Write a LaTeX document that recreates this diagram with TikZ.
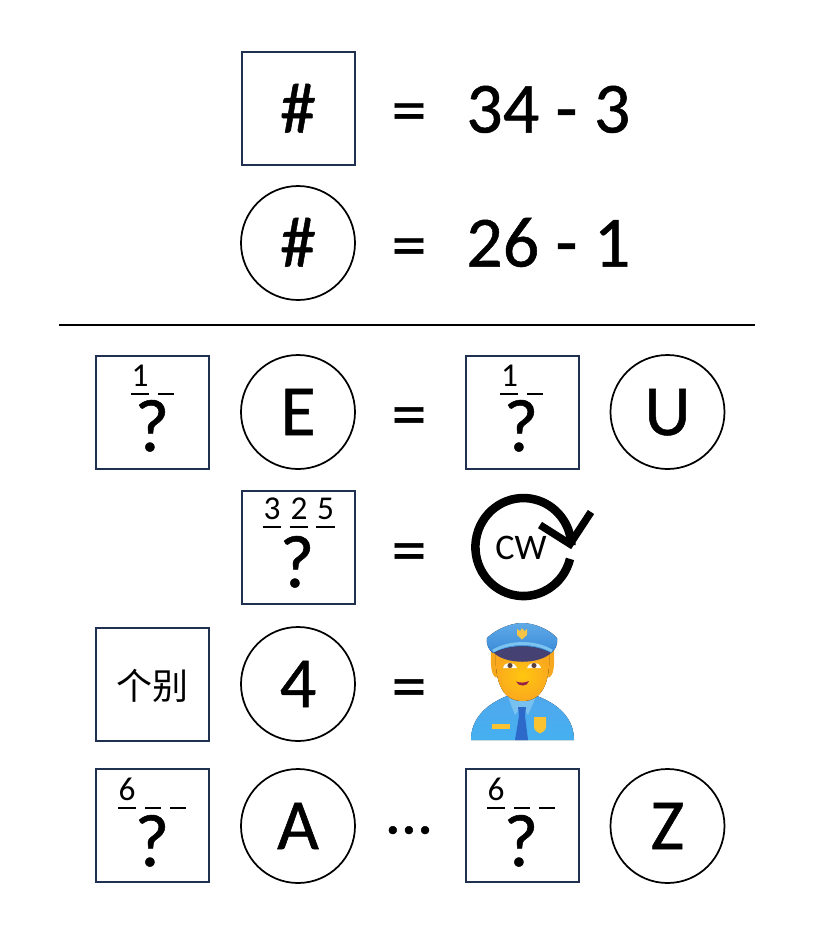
\documentclass[tikz,border=0pt]{standalone}
\usepackage{fontspec}
\setmainfont{Carlito}
\newfontfamily\heavy[RawFeature={embolden=0.7}]{Carlito}
\newfontfamily\cjk{Noto Sans CJK SC}
\definecolor{boxnavy}{HTML}{1F3050}
\definecolor{coatTop}{HTML}{4FA8EC}
\definecolor{coatBot}{HTML}{45B0F0}
\definecolor{collar}{HTML}{78C0F0}
\definecolor{tie}{HTML}{2D69C8}
\definecolor{badge}{HTML}{FAC332}
\definecolor{hair}{HTML}{F6A81E}
\definecolor{faceIn}{HTML}{FFC60F}
\definecolor{faceOut}{HTML}{FAA81E}
\definecolor{iris}{HTML}{5A4038}
\definecolor{lip}{HTML}{962046}
\definecolor{visor}{HTML}{464173}
\definecolor{capTop}{HTML}{5FAAE6}
\definecolor{capBot}{HTML}{3A8ADA}
\definecolor{capBand}{HTML}{7DC3F0}
\definecolor{capBadge}{HTML}{F5C346}
\tikzset{
  big/.style={inner sep=0pt,anchor=base,font=\heavy\fontsize{54}{60}\selectfont},
  eqsign/.style={inner sep=0pt,anchor=base,font=\heavy\fontsize{52}{60}\selectfont},
  letter/.style={inner sep=0pt,anchor=base,font=\heavy\fontsize{54}{60}\selectfont},
  qmark/.style={inner sep=0pt,anchor=base,font=\heavy\fontsize{56}{60}\selectfont},
  digit/.style={inner sep=0pt,anchor=base,font=\fontsize{25}{28}\selectfont},
  sq/.style={draw=boxnavy,line width=1.5pt,rectangle,minimum width=84.75pt,minimum height=84.75pt,inner sep=0pt},
  circ/.style={draw=black,line width=1.3pt,circle,minimum size=85.5pt,inner sep=0pt},
  blank/.style={draw=black,line width=1.1pt},
}
\begin{document}
\begin{tikzpicture}[x=0.75pt,y=-0.75pt]
\useasboundingbox (0,0) rectangle (820,940);
\fill[white] (0,0) rectangle (820,940);
% row 1
\node[sq] (b1) at (298,108.5) {};
\node[big] (h1) at (298,132.5) {\#};
\node[eqsign] (e1) at (409,133) {=};
\node[big,anchor=base west] (t1) at (466,132.5) {34 - 3};
% row 2
\node[circ] (c2) at (298,243) {};
\node[big] (h2) at (298,266.5) {\#};
\node[eqsign] (e2) at (409,268) {=};
\node[big,anchor=base west] (t2) at (466,266.5) {26 - 1};
% rule
\coordinate (ruleL) at (59,325);
\coordinate (ruleR) at (755,325);
\draw[line width=1.5pt] (ruleL) -- (ruleR);
% row 3
\node[sq] (b3a) at (152.5,412) {};
\node[digit] (d3a) at (140,386) {1};
\draw[blank] (131,394) -- (149,394);
\draw[blank] (158,394) -- (174,394);
\node[qmark] (q3a) at (152,451) {?};
\node[circ] (c3a) at (298,412) {};
\node[letter] (l3a) at (298,435) {E};
\node[eqsign] (e3) at (409,437) {=};
\node[sq] (b3b) at (522,412) {};
\node[digit] (d3b) at (509.5,386) {1};
\draw[blank] (500,394) -- (518,394);
\draw[blank] (527,394) -- (543,394);
\node[qmark] (q3b) at (521,451) {?};
\node[circ] (c3b) at (667.5,412) {};
\node[letter] (l3b) at (667.5,435) {U};
% row 4
\node[sq] (b4) at (298.5,547.5) {};
\node[digit] (d4a) at (272,519) {3};
\node[digit] (d4b) at (299,519) {2};
\node[digit] (d4c) at (325.5,519) {5};
\draw[blank] (263,527) -- (281,527);
\draw[blank] (290,527) -- (308,527);
\draw[blank] (316,527) -- (335,527);
\node[qmark] (q4) at (297,587) {?};
\node[eqsign] (e4) at (409,573) {=};
% clockwise icon
\coordinate (cwStart) at (570,558.9);
\draw[line width=6.4pt] (cwStart) arc[start angle=-14,end angle=-358,x radius=36pt,y radius=36.75pt];
\coordinate (cwA) at (540,525);
\coordinate (cwB) at (570,544);
\coordinate (cwC) at (591,512);
\draw[line width=5.6pt,miter limit=10] (cwA) -- (cwB) -- (cwC);
\node[inner sep=0pt,anchor=base,font=\fontsize{27}{30}\selectfont] (cw) at (521,559) {CW};
% row 5
\node[sq] (b5) at (152.5,684) {};
\node[inner sep=0pt,font=\cjk\fontsize{27}{30}\selectfont] (cj) at (152,686) {个别};
\node[circ] (c5) at (298,684) {};
\node[letter] (l5) at (298,707) {4};
\node[eqsign] (e5) at (409,709) {=};
% police officer emoji
\fill[top color=coatTop,bottom color=coatBot]
  (471,740) .. controls (471,718) and (487,704) .. (507,696) -- (537,696) .. controls (558,704) and (574,718) .. (574,740) -- cycle;
\fill[collar] (508,697) -- (536,697) -- (528,715) -- (522,707) -- (515,715) -- cycle;
\fill[tie] (518,707) -- (526,707) -- (525,716) -- (528,740) -- (515,740) -- (519,716) -- cycle;
\fill[badge] (492,724) rectangle (510,729);
\fill[badge] (534,717) -- (546,717) -- (546,727) .. controls (546,731) and (542,732) .. (540,733.5) .. controls (538,732) and (534,731) .. (534,727) -- cycle;
% head
\fill[hair] (491,650) -- (554,650) .. controls (554,662) and (555,672) .. (550,677) -- (495,677) .. controls (490,672) and (491,662) .. (491,650) -- cycle;
\fill[inner color=faceIn,outer color=faceOut]
  (496,650) -- (549,650) .. controls (551,685) and (541,701) .. (522.5,701) .. controls (504,701) and (494,685) .. (496,650) -- cycle;
% eyes and mouth
\fill[white] (503,668) .. controls (505,661) and (514,661) .. (517,668) -- cycle;
\fill[white] (527,668) .. controls (530,661) and (539,661) .. (541,668) -- cycle;
\fill[iris] (510,665.5) circle[radius=1.9pt];
\fill[iris] (534,665.5) circle[radius=1.9pt];
\fill[lip] (516,681.5) .. controls (520,683) and (525,683) .. (529,681) .. controls (528,687) and (518,687) .. (516,681.5) -- cycle;
% cap
\fill[visor] (493,652) .. controls (505,640) and (540,640) .. (552,652) .. controls (540,665) and (505,665) .. (493,652) -- cycle;
\fill[top color=capTop,bottom color=capBot]
  (487,638) .. controls (495,630) and (510,623) .. (522,623) .. controls (535,623) and (550,630) .. (557,638) .. controls (558,645) and (555,650) .. (551,653) .. controls (535,644) and (510,644) .. (493,653) .. controls (489,650) and (486,645) .. (487,638) -- cycle;
\draw[line width=2.2pt,capBand] (493,651) .. controls (510,641) and (535,641) .. (552,651);
\fill[capBadge] (517,629) -- (520,631) -- (522,628) -- (524.5,631) -- (527,629) -- (527,635) -- (522,639.5) -- (517,635) -- cycle;
% row 6
\node[sq] (b6a) at (152.5,825.5) {};
\node[digit] (d6a) at (127,800) {6};
\draw[blank] (118,808) -- (136,808);
\draw[blank] (145,808) -- (161,808);
\draw[blank] (170,808) -- (186,808);
\node[qmark] (q6a) at (152,866) {?};
\node[circ] (c6a) at (298,826) {};
\node[letter] (l6a) at (298,849) {A};
\node[big,font=\heavy\fontsize{48}{50}\selectfont] (dots) at (409,833.5) {...};
\node[sq] (b6b) at (522,825.5) {};
\node[digit] (d6b) at (496,800) {6};
\draw[blank] (487,808) -- (505,808);
\draw[blank] (514,808) -- (530,808);
\draw[blank] (539,808) -- (555,808);
\node[qmark] (q6b) at (521,866) {?};
\node[circ] (c6b) at (667.5,826) {};
\node[letter] (l6b) at (667.5,849) {Z};
\end{tikzpicture}
\end{document}
